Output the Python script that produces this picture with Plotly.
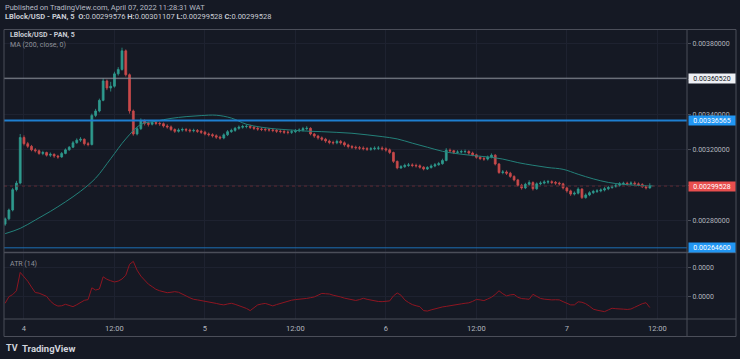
import pandas as pd
import plotly.graph_objects as go

# ---------------- data (prices in units of 1e-6 USD) ----------------
first_open = 2780
closes = [
    2810, 2860, 2975, 3012, 3270, 3235, 3220, 3200, 3195, 3180,
    3185, 3170, 3175, 3165, 3160, 3180, 3200, 3215, 3240, 3255,
    3260, 3235, 3230, 3395, 3420, 3480, 3590, 3550, 3560, 3630,
    3655, 3760, 3625, 3420, 3290, 3320, 3365, 3350, 3345, 3355,
    3350, 3348, 3335, 3330, 3315, 3305, 3312, 3315, 3312, 3308,
    3310, 3305, 3300, 3290, 3286, 3280, 3272, 3267, 3285, 3303,
    3310, 3322, 3328, 3332, 3333, 3328, 3322, 3318, 3316, 3314,
    3313, 3310, 3306, 3304, 3300, 3299, 3303, 3308, 3312, 3320,
    3322, 3290, 3278, 3268, 3260, 3250, 3242, 3240, 3248, 3240,
    3228, 3219, 3215, 3212, 3210, 3207, 3204, 3206, 3209, 3210,
    3206, 3200, 3185, 3135, 3098, 3105, 3112, 3115, 3112, 3110,
    3102, 3092, 3100, 3109, 3116, 3122, 3140, 3198, 3195, 3186,
    3188, 3190, 3191, 3182, 3172, 3158, 3151, 3148, 3160, 3170,
    3120, 3072, 3075, 3068, 3050, 3030, 3000, 2985, 3005, 3015,
    2980, 3008, 3012, 3018, 3020, 3016, 3012, 3008, 2985, 2968,
    2950, 2955, 2978, 2930, 2945, 2958, 2965, 2968, 2973, 2980,
    2987, 2993, 3000, 3008, 3011, 3008, 3012, 3008, 3004, 2992,
    2985, 2995.28,
]
highs = [
    2818, 2868, 2985, 3025, 3290, 3282, 3245, 3228, 3210, 3202,
    3195, 3190, 3185, 3180, 3172, 3188, 3208, 3222, 3250, 3265,
    3272, 3265, 3245, 3405, 3432, 3490, 3605, 3598, 3585, 3642,
    3668, 3778, 3768, 3632, 3428, 3330, 3378, 3372, 3360, 3364,
    3362, 3360, 3355, 3345, 3338, 3322, 3322, 3326, 3324, 3320,
    3320, 3318, 3314, 3308, 3298, 3294, 3288, 3280, 3294, 3312,
    3320, 3330, 3338, 3342, 3344, 3342, 3335, 3330, 3328, 3326,
    3324, 3322, 3318, 3316, 3313, 3310, 3314, 3318, 3322, 3330,
    3334, 3328, 3296, 3285, 3276, 3268, 3258, 3252, 3258, 3256,
    3248, 3235, 3228, 3224, 3222, 3220, 3216, 3216, 3220, 3222,
    3220, 3214, 3208, 3190, 3140, 3114, 3122, 3126, 3124, 3122,
    3118, 3108, 3108, 3118, 3126, 3132, 3150, 3210, 3208, 3200,
    3198, 3200, 3202, 3198, 3190, 3178, 3166, 3160, 3168, 3180,
    3176, 3126, 3086, 3084, 3076, 3056, 3036, 3008, 3014, 3028,
    3022, 3016, 3022, 3028, 3030, 3028, 3024, 3020, 3014, 2992,
    2975, 2965, 2988, 2984, 2954, 2966, 2974, 2978, 2982, 2990,
    2996, 3002, 3010, 3018, 3020, 3020, 3022, 3022, 3016, 3012,
    2998, 3011.07,
]
lows = [
    2770, 2802, 2852, 2965, 3005, 3225, 3210, 3192, 3185, 3172,
    3170, 3162, 3160, 3155, 3150, 3155, 3175, 3195, 3210, 3235,
    3245, 3225, 3220, 3225, 3385, 3412, 3475, 3538, 3530, 3552,
    3620, 3648, 3615, 3405, 3280, 3282, 3312, 3338, 3332, 3338,
    3340, 3336, 3326, 3320, 3306, 3296, 3298, 3303, 3302, 3298,
    3299, 3296, 3290, 3282, 3276, 3270, 3262, 3258, 3260, 3278,
    3296, 3302, 3314, 3320, 3322, 3318, 3312, 3308, 3306, 3304,
    3303, 3300, 3296, 3294, 3290, 3288, 3290, 3295, 3300, 3304,
    3310, 3282, 3268, 3258, 3250, 3240, 3232, 3230, 3232, 3230,
    3218, 3208, 3205, 3202, 3200, 3197, 3194, 3195, 3198, 3199,
    3196, 3190, 3176, 3126, 3090, 3092, 3098, 3104, 3102, 3100,
    3094, 3084, 3086, 3094, 3102, 3110, 3116, 3135, 3184, 3176,
    3178, 3180, 3180, 3172, 3164, 3150, 3142, 3138, 3140, 3152,
    3112, 3064, 3062, 3058, 3042, 3022, 2992, 2975, 2978, 2998,
    2970, 2974, 3000, 3005, 3008, 3006, 3002, 2998, 2976, 2958,
    2940, 2942, 2948, 2922, 2924, 2938, 2950, 2956, 2960, 2965,
    2972, 2980, 2986, 2992, 3000, 2998, 3000, 2998, 2994, 2984,
    2976, 2980,
]
ma200 = [
    2726, 2756, 2803, 2852, 2906, 2966, 3040, 3150, 3262, 3344,
    3362, 3378, 3388, 3394, 3396, 3380, 3345, 3328, 3318, 3312,
    3306, 3303, 3299, 3294, 3285, 3275, 3262, 3238, 3215, 3192,
    3178, 3168, 3160, 3148, 3128, 3113, 3100, 3090, 3062, 3036,
    3016, 3005, 2999, 2996,
]
atr14 = [
    15.5, 20.0, 21.4, 24.0, 36.5, 33.6, 30.5, 26.5, 22.8, 22.4,
    21.5, 20.2, 17.0, 14.8, 13.6, 13.8, 14.8, 14.2, 13.2, 14.5,
    16.0, 17.5, 18.0, 26.0, 24.5, 25.2, 33.5, 31.8, 30.8, 30.0,
    30.6, 32.0, 34.5, 42.0, 44.0, 38.0, 34.0, 31.0, 28.5, 26.8,
    25.0, 24.0, 23.2, 22.7, 23.0, 23.4, 23.0, 22.0, 20.5, 19.2,
    18.2, 17.8, 17.4, 16.9, 16.5, 15.9, 15.4, 14.8, 14.4, 15.0,
    15.5, 14.8, 14.0, 13.2, 12.0, 10.5, 12.5, 14.4, 15.0, 15.4,
    14.6, 13.7, 14.6, 15.4, 16.2, 17.0, 17.6, 18.0, 18.1, 18.2,
    18.8, 19.3, 19.8, 21.0, 22.2, 22.0, 21.8, 21.0, 20.6, 19.8,
    19.0, 18.4, 17.9, 17.4, 18.0, 18.9, 18.2, 17.6, 17.0, 16.7,
    16.6, 16.9, 17.1, 20.5, 22.5, 21.0, 17.8, 16.0, 14.6, 13.8,
    13.2, 10.5, 10.2, 11.0, 11.8, 12.6, 13.0, 13.4, 13.7, 14.2,
    14.7, 15.1, 15.5, 15.8, 16.8, 18.1, 17.8, 17.3, 18.4, 19.6,
    21.5, 24.0, 22.0, 20.5, 21.2, 21.5, 19.6, 18.7, 18.5, 18.2,
    21.6, 20.0, 18.8, 18.3, 17.9, 17.8, 17.9, 17.8, 16.6, 15.3,
    14.4, 14.4, 16.5, 16.2, 15.2, 13.5, 11.5, 10.8, 10.2, 9.8,
    11.0, 12.1, 11.8, 11.4, 11.5, 11.3, 11.6, 12.8, 14.2, 15.2,
    15.9, 12.6,
]
tick_dates = ["2022-04-04 00:00", "2022-04-04 12:00", "2022-04-05 00:00", "2022-04-05 12:00",
              "2022-04-06 00:00", "2022-04-06 12:00", "2022-04-07 00:00", "2022-04-07 12:00"]
tick_labels = ["4", "12:00", "5", "12:00", "6", "12:00", "7", "12:00"]
price_ticks = [0.0028, 0.0030, 0.0032, 0.0034, 0.0036, 0.0038]
level_resist = 0.00360520
level_mid = 0.00336565
level_support = 0.00264600
last_price = 0.00299528

# ---------------- derived ----------------
U = 1e-6
n = len(closes)
times = pd.date_range("2022-04-03 21:30", periods=n, freq="30min")
ma_times = pd.date_range("2022-04-03 21:30", periods=len(ma200), freq="2h")
opens = [first_open] + closes[:-1]
O = [v * U for v in opens]
H = [v * U for v in highs]
L = [v * U for v in lows]
C = [v * U for v in closes]
MA = [v * U for v in ma200]
ATR = [v * U for v in atr14]

W, Hh = 740, 359
def px(x): return x / W
def py(y): return 1 - y / Hh

BG = "#151924"
FRAME = "#4b4e59"
GRID = "#1e2230"
TXT = "#b2b5be"
FONT = "Roboto"

fig = go.Figure()
fig.add_trace(go.Candlestick(
    x=times, open=O, high=H, low=L, close=C, xaxis="x2", yaxis="y",
    increasing=dict(line=dict(color="#2f9a8e", width=0.8), fillcolor="#2f9a8e"),
    decreasing=dict(line=dict(color="#c94a4b", width=0.8), fillcolor="#c94a4b"),
    whiskerwidth=0, showlegend=False, hoverinfo="skip"))
fig.add_trace(go.Scatter(
    x=ma_times, y=MA, xaxis="x2", yaxis="y", mode="lines",
    line=dict(color="#24817a", width=1, shape="spline"), showlegend=False, hoverinfo="skip"))
fig.add_trace(go.Scatter(
    x=times, y=ATR, xaxis="x", yaxis="y2", mode="lines",
    line=dict(color="#8e1521", width=1), showlegend=False, hoverinfo="skip"))

x_range = ["2022-04-03 21:21", "2022-04-07 15:56"]
dom_x = [px(4), px(687)]
fig.update_layout(
    width=W, height=Hh, margin=dict(l=0, r=0, t=0, b=0),
    paper_bgcolor=BG, plot_bgcolor=BG, hovermode=False,
    font=dict(family=FONT, size=7, color=TXT),
    xaxis=dict(domain=dom_x, anchor="y2", type="date", range=x_range,
               tickvals=tick_dates, ticktext=tick_labels, showgrid=True, gridcolor=GRID,
               gridwidth=1, zeroline=False, showline=False, ticks="",
               tickfont=dict(size=7.5, color=TXT), ticklabelstandoff=3,
               rangeslider=dict(visible=False)),
    xaxis2=dict(domain=dom_x, anchor="y", matches="x", type="date",
                tickvals=tick_dates, showticklabels=False, showgrid=True,
                gridcolor=GRID, zeroline=False, showline=False, ticks="",
                rangeslider=dict(visible=False)),
    yaxis=dict(domain=[py(251.5), py(30)], anchor="x2", side="right",
               range=[0.0026252, 0.003878], tickvals=price_ticks, tickformat=".8f",
               showgrid=True, gridcolor=GRID, zeroline=False, showline=False,
               ticks="outside", ticklen=3, tickcolor=FRAME, tickfont=dict(size=7, color=TXT)),
    yaxis2=dict(domain=[py(319), py(253)], anchor="x", side="right",
                range=[4.8e-6, 49.7e-6], tickvals=[2e-5, 4e-5], tickformat=".4f",
                showgrid=True, gridcolor=GRID, zeroline=False, showline=False,
                ticks="outside", ticklen=3, tickcolor=FRAME, tickfont=dict(size=7, color=TXT)),
)

shapes = []
# price levels
shapes.append(dict(type="line", xref="paper", yref="y", x0=px(4), x1=px(687),
                   y0=level_resist, y1=level_resist, line=dict(color="#8d909a", width=1)))
shapes.append(dict(type="line", xref="paper", yref="y", x0=px(4), x1=px(687),
                   y0=level_mid, y1=level_mid, line=dict(color="#1e7fd0", width=2)))
shapes.append(dict(type="line", xref="paper", yref="y", x0=px(4), x1=px(687),
                   y0=level_support, y1=level_support, line=dict(color="#1c6fb5", width=1)))
shapes.append(dict(type="line", xref="paper", yref="y", x0=px(4), x1=px(687),
                   y0=last_price, y1=last_price, line=dict(color="#5e2a33", width=1, dash="dot")))
# frame
shapes.append(dict(type="rect", xref="paper", yref="paper", x0=px(4), x1=px(736),
                   y0=py(336.5), y1=py(29.5), line=dict(color=FRAME, width=1)))
shapes.append(dict(type="line", xref="paper", yref="paper", x0=px(687), x1=px(687),
                   y0=py(336.5), y1=py(29.5), line=dict(color=FRAME, width=1)))
shapes.append(dict(type="line", xref="paper", yref="paper", x0=px(4), x1=px(736),
                   y0=py(252.5), y1=py(252.5), line=dict(color=FRAME, width=1.5)))
shapes.append(dict(type="line", xref="paper", yref="paper", x0=px(4), x1=px(736),
                   y0=py(319), y1=py(319), line=dict(color=FRAME, width=1)))
fig.update_layout(shapes=shapes)

ann = []
def label(val, bg, fg):
    ann.append(dict(xref="paper", yref="y", x=px(687.5), y=val, xanchor="left", yanchor="middle",
                    text=f"{val:.8f}", showarrow=False, bgcolor=bg, width=46, height=9,
                    borderpad=0, font=dict(family=FONT, size=7, color=fg)))
label(level_resist, "#eef0f5", "#131722")
label(level_mid, "#2196f3", "#ffffff")
label(last_price, "#e84e4e", "#ffffff")
label(level_support, "#2196f3", "#ffffff")

def text(x, y, s, size=7.5, color=TXT):
    ann.append(dict(xref="paper", yref="paper", x=px(x), y=py(y), xanchor="left", yanchor="middle",
                    text=s, showarrow=False, font=dict(family=FONT, size=size, color=color)))
text(3, 7, "Published on TradingView.com, April 07, 2022 11:28:31 WAT", 7.5, "#b8bbc4")
text(3, 17, "<b>LBlock/USD - PAN, 5</b>  <b>O:</b>0.00299576 <b>H:</b>0.00301107 "
            "<b>L:</b>0.00299528 <b>C:</b>0.00299528", 7.5, "#c9ccd4")
text(8, 35, "<b>LBlock/USD - PAN, 5</b>", 7, "#c9ccd4")
text(8, 45, "MA (200, close, 0)", 7, "#8f929b")
text(8, 264, "ATR (14)", 7, "#8f929b")
text(4, 348, "<b>TV</b>", 9, "#d1d4dc")
text(20, 348, "<b>TradingView</b>", 9.5, "#d1d4dc")
fig.update_layout(annotations=ann)

fig.write_html("out.html",
               config={"displayModeBar": False, "staticPlot": True},
               post_script="document.body.style.margin='0px';"
                           "document.body.style.background='#151924';")
